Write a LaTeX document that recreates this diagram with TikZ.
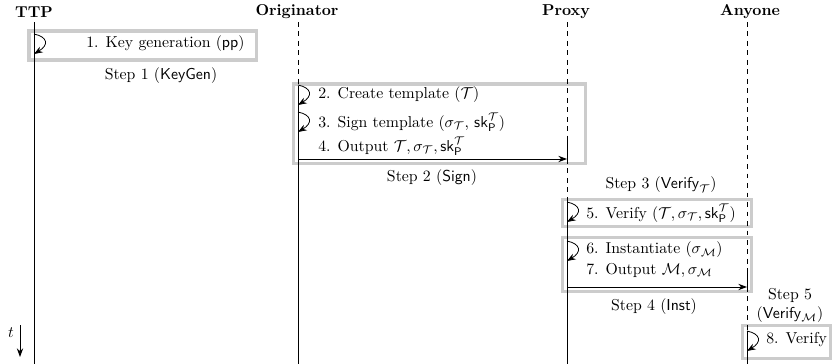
\documentclass[tikz,border=0pt]{standalone}
\usepackage{amsmath}
\usetikzlibrary{arrows.meta}
\begin{document}
\begin{tikzpicture}[x=0.633pt,y=-0.633pt,
  life/.style={line width=0.5pt},
  idle/.style={line width=0.5pt,dash pattern=on 3pt off 3pt},
  stepframe/.style={draw=black!20,line width=1.9pt},
  lbl/.style={inner sep=0pt,anchor=west},
  steplabel/.style={inner sep=0pt,align=center},
  head/.style={inner sep=0pt,font=\bfseries},
  selfloop/.style={-{Stealth[length=5.5pt,width=4pt]},line width=0.5pt},
  msg/.style={-{Stealth[length=5.5pt,width=4pt]},line width=0.5pt}]
\useasboundingbox (0,0) rectangle (834,364);

% frames
\draw[stepframe] (29,31) rectangle (256,60);
\draw[stepframe] (293,84) rectangle (585,163);
\draw[stepframe] (562,199) rectangle (751,226);
\draw[stepframe] (562,237) rectangle (751,291);
\draw[stepframe] (742,325) rectangle (830,358);

% headers
\node[head] (hT) at (34,12) {TTP};
\node[head] (hO) at (297,12) {Originator};
\node[head] (hP) at (566,12) {Proxy};
\node[head] (hA) at (750,12) {Anyone};

% lifeline coordinates
\coordinate (T0) at (34,22);   \coordinate (T9) at (34,364);
\coordinate (O0) at (298,22);  \coordinate (O1) at (298,86);  \coordinate (O9) at (298,364);
\coordinate (P0) at (567,22);  \coordinate (P1) at (567,138); \coordinate (P2) at (567,159);
\coordinate (P3) at (567,200); \coordinate (P9) at (567,364);
\coordinate (A0) at (747,22);  \coordinate (A1) at (747,270); \coordinate (A2) at (747,287);
\coordinate (A3) at (747,331); \coordinate (A9) at (747,364);

\draw[life] (T0) -- (T9);
\draw[idle] (O0) -- (O1);
\draw[life] (O1) -- (O9);
\draw[idle] (P0) -- (P1);
\draw[life] (P1) -- (P2);
\draw[idle] (P2) -- (P3);
\draw[life] (P3) -- (P9);
\draw[idle] (A0) -- (A1);
\draw[life] (A1) -- (A2);
\draw[idle] (A2) -- (A3);
\draw[life] (A3) -- (A9);

% self loops
\coordinate (l1a) at (34,34);   \coordinate (l1b) at (34,54);
\coordinate (l2a) at (298,85);  \coordinate (l2b) at (298,105);
\coordinate (l3a) at (298,112); \coordinate (l3b) at (298,132);
\coordinate (l5a) at (567,202); \coordinate (l5b) at (567,222);
\coordinate (l6a) at (567,241); \coordinate (l6b) at (567,261);
\coordinate (l8a) at (747,331); \coordinate (l8b) at (747,351);
\foreach \s in {1,2,3,5,6,8}{
  \draw[selfloop] (l\s a) .. controls +(14,3) and +(15,-9) .. (l\s b);
}

% labels
\node[lbl] (t1) at (86,44) {1. Key generation ($\mathsf{pp}$)};
\node[lbl] (t2) at (318,95) {2. Create template ($\mathcal{T}$)};
\node[lbl] (t3) at (318,122) {3. Sign template ($\sigma_{\mathcal{T}}$, $\mathsf{sk}_{\mathsf{P}}^{\mathcal{T}}$)};
\node[lbl] (t4) at (318,146) {4. Output $\mathcal{T}, \sigma_{\mathcal{T}}, \mathsf{sk}_{\mathsf{P}}^{\mathcal{T}}$};
\node[lbl] (t5) at (586,213) {5. Verify ($\mathcal{T}, \sigma_{\mathcal{T}}, \mathsf{sk}_{\mathsf{P}}^{\mathcal{T}}$)};
\node[lbl] (t6) at (586,250) {6. Instantiate ($\sigma_{\mathcal{M}}$)};
\node[lbl] (t7) at (586,270) {7. Output $\mathcal{M}, \sigma_{\mathcal{M}}$};
\node[lbl] (t8) at (766,340) {8. Verify};

% messages
\coordinate (m4a) at (298,159); \coordinate (m4b) at (567,159);
\coordinate (m7a) at (567,287); \coordinate (m7b) at (747,287);
\draw[msg] (m4a) -- (m4b);
\draw[msg] (m7a) -- (m7b);

% step captions
\node[steplabel] (c1) at (161,76) {Step 1 (\textsf{KeyGen})};
\node[steplabel] (c2) at (432,178) {Step 2 (\textsf{Sign})};
\node[steplabel] (c3) at (661,185) {Step 3 ($\mathsf{Verify}_{\mathcal{T}}$)};
\node[steplabel] (c4) at (654,307) {Step 4 (\textsf{Inst})};
\node[steplabel] (c5) at (790,305) {Step 5\\($\mathsf{Verify}_{\mathcal{M}}$)};

% time arrow
\coordinate (ta) at (20,325); \coordinate (tb) at (20,357);
\draw[msg] (ta) -- (tb);
\node[inner sep=0pt] (tl) at (11,333) {$t$};
\end{tikzpicture}
\end{document}
